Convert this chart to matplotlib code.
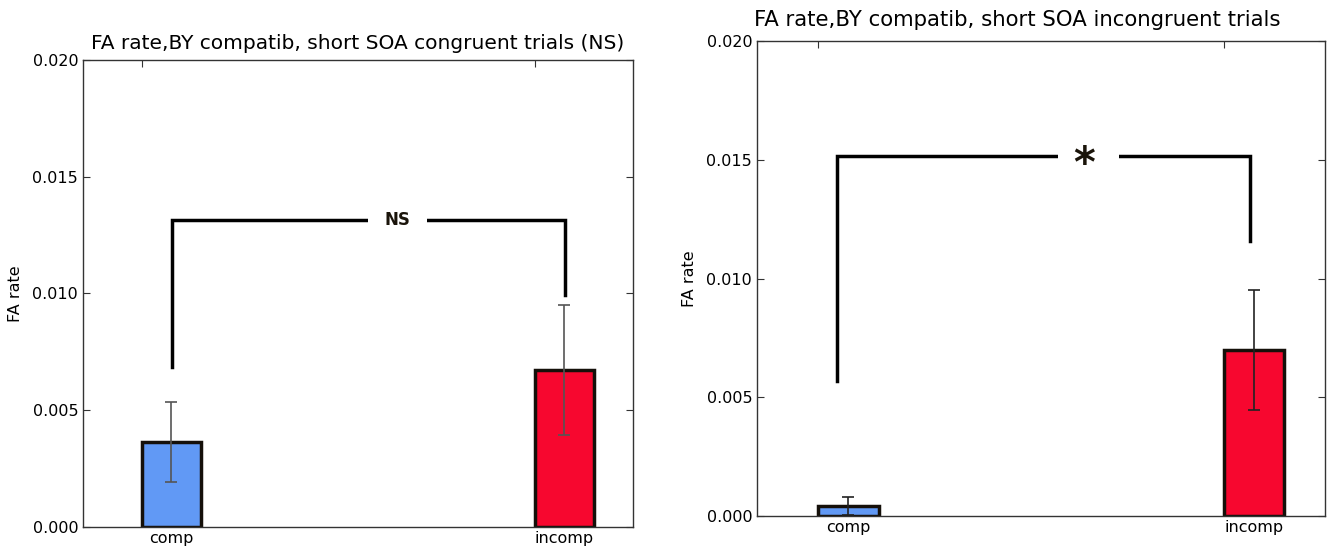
import matplotlib.pyplot as plt
from matplotlib.ticker import FormatStrFormatter

categories = ['comp', 'incomp']

# congruent trials
cong_means = [0.00364, 0.00672]
cong_errs = [0.00171, 0.00278]
# incongruent trials
incong_means = [0.00042, 0.00699]
incong_errs = [0.00038, 0.00253]

# significance brackets: (x_left, x_right, y_top, y_left_bottom, y_right_bottom, label)
cong_bracket = (0.076, 1.076, 0.01315, 0.00685, 0.00994, 'NS')
incong_bracket = (0.046, 1.066, 0.01516, 0.00568, 0.01158, '*')

colors = ['#6199f5', '#f7072f']
width = 0.15


def draw_panel(ax, means, errs, err_color, bracket, label_size):
    x = list(range(len(means)))
    ax.bar(x, means, width, align='edge', color=colors, edgecolor='#15100a',
           linewidth=2.5, zorder=2)
    centers = [i + width / 2 for i in x]
    ax.errorbar(centers, means, yerr=errs, fmt='none', ecolor=err_color,
                elinewidth=1.2, capsize=4, capthick=1.2, zorder=3)

    xl, xr, ytop, ylb, yrb, lab = bracket
    ax.plot([xl, xl, xr, xr], [ylb, ytop, ytop, yrb], color='black', lw=2.5,
            solid_joinstyle='miter', zorder=4)
    # white box hides the line behind the label
    if lab == 'NS':
        ax.text(0.65, ytop, lab, ha='center', va='center', fontsize=label_size,
                fontweight='bold', color='#1a140a', zorder=5,
                bbox=dict(facecolor='white', edgecolor='none', pad=12))
    else:
        ax.text(0.666, ytop, ' ', ha='center', va='center', fontsize=12,
                zorder=5, bbox=dict(facecolor='white', edgecolor='none', pad=20))
        ax.text(0.655, ytop - 0.0004, lab, ha='center', va='center',
                fontsize=label_size, fontweight='bold', color='#1a140a',
                zorder=6)

    ax.set_xlim(-0.15, 1.25)
    ax.set_ylim(0, 0.02)
    ax.set_yticks([0, 0.005, 0.01, 0.015, 0.02])
    ax.yaxis.set_major_formatter(FormatStrFormatter('%.3f'))
    ax.set_xticks(x)
    ax.set_xticklabels([])
    ax.set_xticks(centers, minor=True)
    ax.set_xticklabels(categories, minor=True)
    ax.tick_params(which='both', direction='in', top=True, right=True,
                   labelsize=11.5, length=5, width=0.8, color='#333333')
    ax.tick_params(which='minor', length=0, pad=3)
    for sp in ax.spines.values():
        sp.set_linewidth(1.0)
        sp.set_color('#333333')
    ax.set_ylabel('FA rate', fontsize=11.5, labelpad=7)


fig = plt.figure(figsize=(13.31, 5.47), dpi=100)
ax1 = fig.add_axes([0.0624, 0.0366, 0.4132, 0.8537])
ax2 = fig.add_axes([0.5688, 0.0567, 0.4267, 0.8683])

draw_panel(ax1, cong_means, cong_errs, '#555555', cong_bracket, 12)
draw_panel(ax2, incong_means, incong_errs, '#222222', incong_bracket, 30)

ax1.set_title('FA rate,BY compatib, short SOA congruent trials (NS)',
              fontsize=14.5, pad=8)
ax2.set_title('FA rate,BY compatib, short SOA incongruent trials',
              fontsize=15.3, x=0.458, pad=10.5)

fig.savefig('out.png', dpi=100, facecolor='white')
